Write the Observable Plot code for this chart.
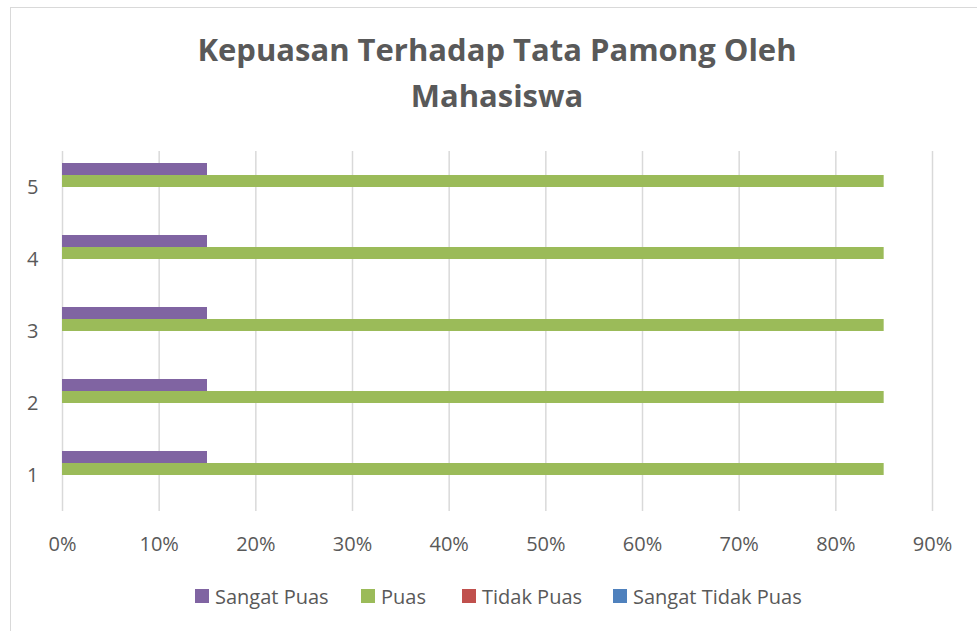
<!DOCTYPE html>
<html>
<head>
<meta charset="utf-8">
<script src="https://cdn.jsdelivr.net/npm/d3@7"></script>
<script src="https://cdn.jsdelivr.net/npm/@observablehq/plot@0.6"></script>
<style>
  html, body { margin: 0; padding: 0; background: #fff; }
  #wrap { position: relative; width: 977px; height: 631px; overflow: hidden; font-family: "Open Sans", sans-serif; color: #595959; }
  #border { position: absolute; left: 10px; top: 7px; width: 1000px; height: 700px; border: 1px solid #d9d9d9; box-sizing: border-box; }
  #title { position: absolute; left: 0; width: 994px; top: 26px; text-align: center; font-weight: 700; font-size: 31px; line-height: 46px; color: #595959; }
  #chart { position: absolute; left: 0; top: 0; }
  #legend { position: absolute; top: 583px; left: 0; width: 977px; height: 26px; font-size: 20px; color: #595959; }
  .item { position: absolute; display: flex; align-items: center; height: 26px; white-space: nowrap; }
  .sw { width: 14px; height: 14px; margin-right: 6px; }
</style>
</head>
<body>
<div id="wrap">
  <div id="border"></div>
  <div id="chart"></div>
  <div id="title">Kepuasan Terhadap Tata Pamong Oleh<br>Mahasiswa</div>
  <div id="legend"></div>
</div>
<script>
const categories = ["1", "2", "3", "4", "5"];
const seriesNames = ["Sangat Puas", "Puas", "Tidak Puas", "Sangat Tidak Puas"];
const seriesColors = ["#8064A2", "#9BBB59", "#C0504D", "#4F81BD"];
const sangatPuas = [0.15, 0.15, 0.15, 0.15, 0.15];
const puas = [0.85, 0.85, 0.85, 0.85, 0.85];
const tidakPuas = [0, 0, 0, 0, 0];
const sangatTidakPuas = [0, 0, 0, 0, 0];
const xTicks = [0, 0.1, 0.2, 0.3, 0.4, 0.5, 0.6, 0.7, 0.8, 0.9];
const xTickLabels = ["0%", "10%", "20%", "30%", "40%", "50%", "60%", "70%", "80%", "90%"];
const legendX = [195, 361, 462, 613];

const seriesValues = [sangatPuas, puas, tidakPuas, sangatTidakPuas];
const data = [];
seriesValues.forEach((vals, si) => {
  categories.forEach((c, ci) => data.push({ category: c, series: seriesNames[si], value: vals[ci] }));
});

const chart = Plot.plot({
  width: 977,
  height: 631,
  marginTop: 151,
  marginBottom: 120,
  marginLeft: 62,
  marginRight: 45,
  style: { fontFamily: "Open Sans, sans-serif", fontSize: "20px", color: "#595959", background: "transparent" },
  x: { domain: [0, 0.9] },
  y: { domain: seriesNames, paddingInner: 0, paddingOuter: 0.88, axis: null },
  fy: { domain: categories.slice().reverse(), padding: 0, axis: null },
  color: { domain: seriesNames, range: seriesColors },
  marks: [
    Plot.gridX(xTicks, { stroke: "#d9d9d9", strokeOpacity: 1, strokeWidth: 1.5 }),
    Plot.barX(data, { x: "value", y: "series", fy: "category", fill: "series" }),
    Plot.axisX(xTicks, { tickSize: 0, tickPadding: 25, fontSize: 20, label: null, tickFormat: (d) => xTickLabels[xTicks.indexOf(d)] }),
    Plot.axisFy({ anchor: "left", tickSize: 0, tickPadding: 24, fontSize: 20, label: null })
  ]
});
document.getElementById("chart").appendChild(chart);

const legend = document.getElementById("legend");
seriesNames.forEach((name, i) => {
  const item = document.createElement("div");
  item.className = "item";
  item.style.left = legendX[i] + "px";
  const sw = document.createElement("span");
  sw.className = "sw";
  sw.style.background = seriesColors[i];
  const label = document.createElement("span");
  label.textContent = name;
  item.appendChild(sw);
  item.appendChild(label);
  legend.appendChild(item);
});
</script>
</body>
</html>
